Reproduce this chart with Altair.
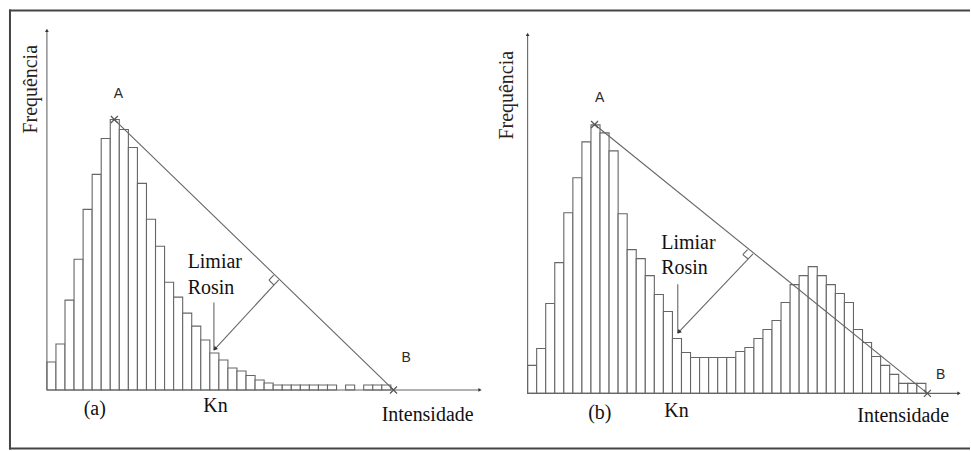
import math
import altair as alt
import pandas as pd

# ---------------- data ----------------
# Histogram (a): one unimodal peak with a long flat tail
freq_a = [28, 46, 90, 131, 181, 216, 252, 271, 261, 243, 207, 171, 144, 108,
          93, 77, 64, 50, 37, 30, 22, 19, 14.5, 10, 7, 5, 5, 5, 5, 5, 5, 5,
          0, 5, 0, 5, 5, 5]
# Histogram (b): bimodal
freq_b = [28, 45, 90, 131, 181, 216, 252, 269, 261, 243, 180, 144, 135, 118,
          99, 82, 55, 41, 36, 36, 36, 36, 36, 42, 46, 55, 64, 73, 91, 109, 118,
          127, 118, 109, 100, 91, 64, 51, 37, 28, 19, 10, 10, 10]

# key points (bin units, frequency units), per panel
A_a, B_a = (7.45, 271), (38.29, 0)
foot_a, tip_a, vtop_a = (25.61, 110.3), (18.45, 40), 87.6
A_b, B_b = (7.4, 269.4), (44.17, 0)
foot_b, tip_b, vtop_b = (24.9, 139.7), (16.59, 60.4), 109.4

labels_a = {"A": (7.9, 296.3), "B": (39.69, 32), "Limiar": (15.55, 122.3),
            "Rosin": (15.55, 96.6), "(a)": (5.29, -19.5), "Kn": (18.63, -15.7),
            "Intensidade": (42.06, -24.7), "Frequência": (-1.76, 301.3)}
labels_b = {"A": (7.97, 296), "B": (45.64, 18.7), "Limiar": (14.77, 144.4),
            "Rosin": (14.77, 119.4), "(b)": (7.97, -19.3), "Kn": (16.45, -17.3),
            "Intensidade": (41.5, -22.3), "Frequência": (-2.28, 298.7)}

# ---------------- layout ----------------
PX_BIN = 9.07          # pixels per bin
W, H = 963, 441        # plot area (frame) size
ORIGIN_A = (38.0, 381.3)   # y-axis x and baseline y of panel (a), in view pixels
ORIGIN_B = (519.7, 384.7)  # same for panel (b)
LINE = "#666666"
TEXT = "#111111"
SERIF = "Liberation Serif"
SANS = "Liberation Sans"
XSHAPE = "M -1 -1 L 1 1 M -1 1 L 1 -1"

xmin = -ORIGIN_A[0] / PX_BIN
xmax = (W - ORIGIN_A[0]) / PX_BIN
ymax = ORIGIN_A[1]
ymin = ORIGIN_A[1] - H
xs = alt.Scale(domain=[xmin, xmax], nice=False, zero=False)
ys = alt.Scale(domain=[ymin, ymax], nice=False, zero=False)


def X(f):
    return alt.X(f, type="quantitative", scale=xs, axis=None)


def Y(f):
    return alt.Y(f, type="quantitative", scale=ys, axis=None)


bar_rows, seg_rows, head_rows, cross_rows, lab_rows = [], [], [], [], []


def add_panel(freq, A, B, foot, tip, vtop, labels, origin, yaxis_top, xaxis_end):
    dx = (origin[0] - ORIGIN_A[0]) / PX_BIN
    dy = ORIGIN_A[1] - origin[1]

    def P(p):
        return (p[0] + dx, p[1] + dy)

    for i, f in enumerate(freq):
        if f > 0:
            bar_rows.append((i + dx, i + 1 + dx, dy, f + dy))

    def to_px(p):
        return (p[0] * PX_BIN, -p[1])

    def to_data(q):
        return (q[0] / PX_BIN, -q[1])

    def unit(a, b):
        ux, uy = b[0] - a[0], b[1] - a[1]
        n = math.hypot(ux, uy)
        return ux / n, uy / n

    F = to_px(foot)
    u1 = unit(F, to_px(A))
    u2 = unit(F, to_px(tip))
    s = 7
    P1 = to_data((F[0] + s * u1[0], F[1] + s * u1[1]))
    P2 = to_data((F[0] + s * (u1[0] + u2[0]), F[1] + s * (u1[1] + u2[1])))
    P3 = to_data((F[0] + s * u2[0], F[1] + s * u2[1]))

    for a, b in [((0, 0), (0, yaxis_top)), ((0, 0), (xaxis_end, 0)), (A, B),
                 (foot, tip), ((tip[0], vtop), tip), (P1, P2), (P2, P3)]:
        pa, pb = P(a), P(b)
        seg_rows.append((pa[0], pa[1], pb[0], pb[1]))

    ang = math.degrees(math.atan2(u2[0], -u2[1])) % 360
    tp = to_px(tip)
    tip_c = to_data((tp[0] - 1.5 * u2[0], tp[1] - 1.5 * u2[1]))
    for p, a, sz in [((0, yaxis_top), 0, 14), ((xaxis_end, 0), 90, 14), (tip_c, ang, 22)]:
        q = P(p)
        head_rows.append((q[0], q[1], a, sz))

    for p in (A, B):
        q = P(p)
        cross_rows.append((q[0], q[1]))

    for k, v in labels.items():
        q = P(v)
        lab_rows.append((k, q[0], q[1]))


add_panel(freq_a, A_a, B_a, foot_a, tip_a, vtop_a, labels_a, ORIGIN_A, 360.3, 47.85)
add_panel(freq_b, A_b, B_b, foot_b, tip_b, vtop_b, labels_b, ORIGIN_B, 359.7, 47.66)

bars = pd.DataFrame(bar_rows, columns=["x0", "x1", "y0", "y1"])
segs = pd.DataFrame(seg_rows, columns=["x", "y", "x2", "y2"])
heads = pd.DataFrame(head_rows, columns=["x", "y", "a", "s"])
crosses = pd.DataFrame(cross_rows, columns=["x", "y"])
lab = pd.DataFrame(lab_rows, columns=["t", "x", "y"])

# outer frame: top, bottom, left (no right side in the reference)
frame = pd.DataFrame([(xmin, ymax - 1, xmax, ymax - 1),
                      (xmin, ymin + 1, xmax, ymin + 1),
                      (xmin + 1 / PX_BIN, ymin, xmin + 1 / PX_BIN, ymax)],
                     columns=["x", "y", "x2", "y2"])

bar_layer = alt.Chart(bars).mark_rect(fill="white", stroke=LINE, strokeWidth=1.1).encode(
    x=X("x0"), x2=alt.X2("x1"), y=Y("y0"), y2=alt.Y2("y1"))
rule_layer = alt.Chart(segs).mark_rule(color=LINE, strokeWidth=1.1).encode(
    x=X("x"), y=Y("y"), x2=alt.X2("x2"), y2=alt.Y2("y2"))
frame_layer = alt.Chart(frame).mark_rule(color="#444444", strokeWidth=2).encode(
    x=X("x"), y=Y("y"), x2=alt.X2("x2"), y2=alt.Y2("y2"))
head_layer = alt.Chart(heads).mark_point(shape="triangle-up", filled=True,
                                         color="#333333", opacity=1).encode(
    x=X("x"), y=Y("y"), angle=alt.Angle("a:Q", scale=None), size=alt.Size("s:Q", scale=None))
cross_layer = alt.Chart(crosses).mark_point(shape=XSHAPE, size=49, filled=False,
                                            color="#555555", strokeWidth=1.2, opacity=1).encode(
    x=X("x"), y=Y("y"))
sans_layer = alt.Chart(lab[lab.t.isin(["A", "B"])]).mark_text(
    font=SANS, fontSize=14, color="#2a2a2a", align="center", baseline="middle").encode(
    x=X("x"), y=Y("y"), text="t:N")
serif_left = alt.Chart(lab[lab.t.isin(["Limiar", "Rosin"])]).mark_text(
    font=SERIF, fontSize=20, color=TEXT, align="left", baseline="alphabetic").encode(
    x=X("x"), y=Y("y"), text="t:N")
serif_c = alt.Chart(lab[lab.t.isin(["(a)", "(b)", "Kn", "Intensidade"])]).mark_text(
    font=SERIF, fontSize=20, color=TEXT, align="center", baseline="middle").encode(
    x=X("x"), y=Y("y"), text="t:N")
serif_rot = alt.Chart(lab[lab.t == "Frequência"]).mark_text(
    font=SERIF, fontSize=20, color="#2a2218", align="center", baseline="middle", angle=270).encode(
    x=X("x"), y=Y("y"), text="t:N")

chart = alt.layer(bar_layer, rule_layer, frame_layer, head_layer, cross_layer, sans_layer,
                  serif_left, serif_c, serif_rot).properties(
    width=W, height=H,
    padding={"left": 8, "top": 8, "right": 0, "bottom": 2},
    background="white",
).configure_view(stroke="transparent", strokeWidth=0)

chart.save("out.html", embed_options={"renderer": "svg", "actions": False})
